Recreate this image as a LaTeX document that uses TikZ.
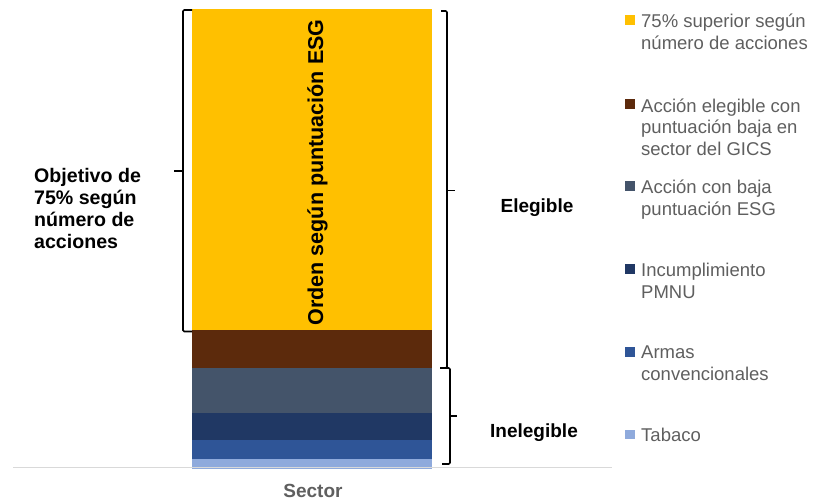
\documentclass[tikz,border=0pt]{standalone}
\usepackage{fontspec}
\setmainfont{Liberation Sans}
\definecolor{cYel}{HTML}{FFC000}
\definecolor{cBrn}{HTML}{5C2A0C}
\definecolor{cSla}{HTML}{44546A}
\definecolor{cNav}{HTML}{203864}
\definecolor{cBlu}{HTML}{2F5597}
\definecolor{cLbl}{HTML}{8FAADC}
\definecolor{cTxt}{HTML}{5F5F5F}
\definecolor{cAxis}{HTML}{D9D9D9}
\begin{document}
\begin{tikzpicture}[x=1pt,y=-1pt,
  brk/.style={draw=black,line width=1.6pt,rounded corners=1.2pt},
  boldlab/.style={inner sep=0pt,font=\fontsize{19}{22}\selectfont\bfseries,align=left},
  legtext/.style={inner sep=0pt,anchor=north west,text=cTxt,font=\fontsize{18.5}{21.7}\selectfont,align=left},
  legsq/.style={inner sep=0pt,minimum size=9.5pt,anchor=north west}]
\useasboundingbox (0,0) rectangle (826,502);
% stacked bar
\fill[cYel] (192,9) rectangle (432,330);
\fill[cBrn] (192,330) rectangle (432,368);
\fill[cSla] (192,368) rectangle (432,413);
\fill[cNav] (192,413) rectangle (432,440);
\fill[cBlu] (192,440) rectangle (432,459);
\fill[cLbl] (192,459) rectangle (432,468.5);
% axis
\draw[cAxis,line width=1pt] (13,467) -- (612,467);
% rotated label
\node[inner sep=0pt,rotate=90,anchor=base,font=\fontsize{21.5}{24}\selectfont\bfseries] (orden) at (323,172.5) {Orden según puntuación ESG};
\node[inner sep=0pt,anchor=base,text=cTxt,font=\fontsize{19}{22}\selectfont\bfseries] (sector) at (313,497) {Sector};
% braces
\draw[brk] (192,10) -- (183,10) -- (183,331.5) -- (192,331.5);
\draw[brk] (174,171) -- (183,171);
\draw[brk] (441,11) -- (447,11) -- (447,368) -- (441,368);
\draw[brk] (447,190.5) -- (455,190.5);
\draw[brk] (440,368) -- (450,368) -- (450,464) -- (442,464);
\draw[brk] (450,416) -- (457,416);
% side labels
\node[boldlab,anchor=north west,font=\fontsize{19.6}{22}\selectfont\bfseries] (obj) at (34,168) {Objetivo de\\75\% según\\número de\\acciones};
\node[boldlab,anchor=base] (eleg) at (537,212.3) {Elegible};
\node[boldlab,anchor=base] (ineleg) at (534,437.7) {Inelegible};
% legend
\node[legsq,fill=cYel] (sq1) at (625,15) {};
\node[legtext] (leg1) at (641,14) {75\% superior según\\número de acciones};
\node[legsq,fill=cBrn] (sq2) at (625,99.3) {};
\node[legtext] (leg2) at (641,98.3) {Acción elegible con\\puntuación baja en\\sector del GICS};
\node[legsq,fill=cSla] (sq3) at (625,181) {};
\node[legtext] (leg3) at (641,180) {Acción con baja\\puntuación ESG};
\node[legsq,fill=cNav] (sq4) at (625,264.3) {};
\node[legtext] (leg4) at (641,263.3) {Incumplimiento\\PMNU};
\node[legsq,fill=cBlu] (sq5) at (625,347) {};
\node[legtext] (leg5) at (641,346) {Armas\\convencionales};
\node[legsq,fill=cLbl] (sq6) at (625,429.3) {};
\node[legtext] (leg6) at (641,428.3) {Tabaco};
\end{tikzpicture}
\end{document}
